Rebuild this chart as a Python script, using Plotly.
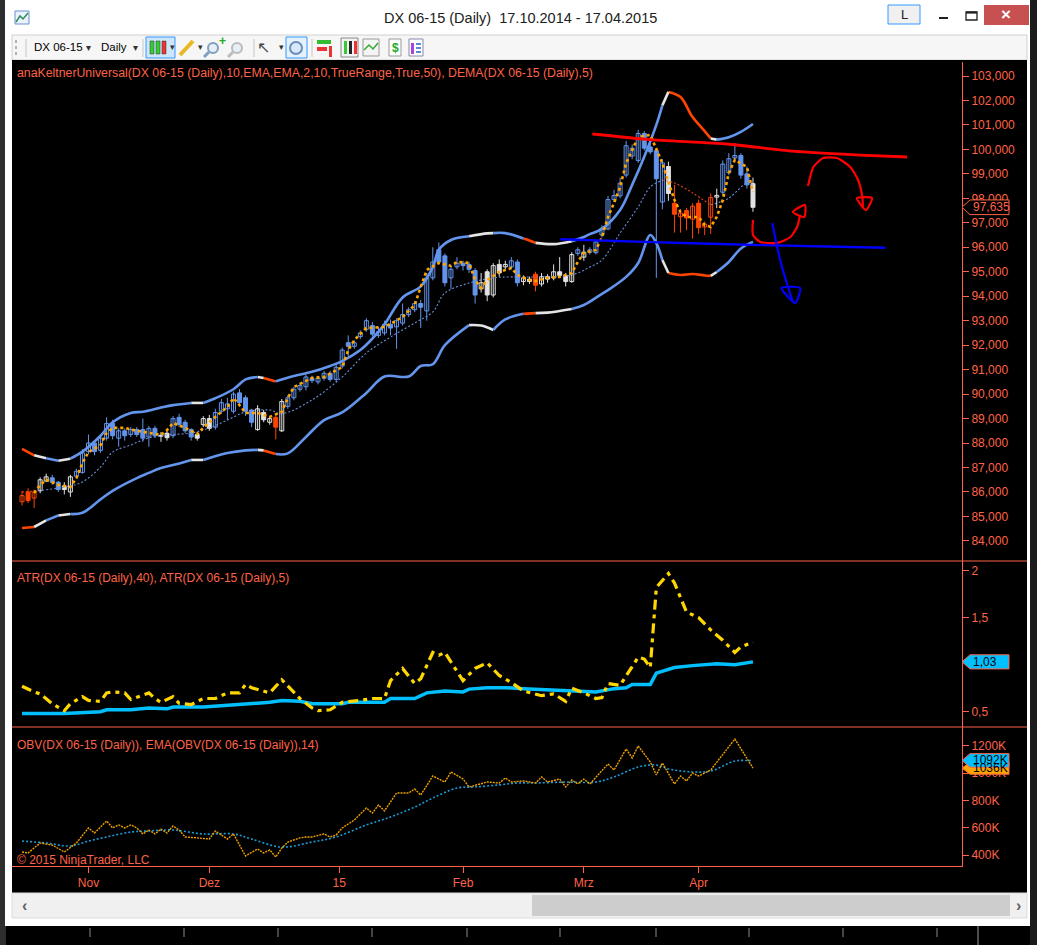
import plotly.graph_objects as go

W, H = 1037, 945
AX = "#FF6347"          # NinjaTrader axis / text colour
FONT = "Liberation Sans, Arial, sans-serif"

# ---------------- data ----------------
month_ticks = [11, 31, 52.5, 73, 93, 112]
month_labels = ["Nov", "Dez", "15", "Feb", "Mrz", "Apr"]

price_ticks = list(range(84, 104))
price_labels = [f"{v},000" for v in price_ticks]
atr_ticks = [0.5, 1.5, 2.0]
atr_labels = ["0,5", "1,5", "2"]
obv_ticks = [400, 600, 800, 1000, 1200]
obv_labels = ["400K", "600K", "800K", "1000K", "1200K"]

opens = [85.60, 86.00, 85.75, 86.05, 86.45, 86.58, 86.40, 86.25, 86.00, 86.65,
         86.80, 87.65, 88.00, 87.70, 88.20, 88.80, 88.20, 88.50, 88.35, 88.55,
         88.55, 88.25, 88.60, 88.32, 88.40, 88.30, 89.05, 88.85, 88.55, 88.35,
         88.75, 89.00, 88.65, 89.30, 89.40, 89.30, 90.05, 89.85, 89.35, 88.55,
         89.25, 88.85, 89.05, 88.50, 89.50, 89.85, 90.20, 90.30, 90.65, 90.50,
         90.65, 90.85, 90.60, 91.15, 92.10, 91.95, 92.35, 92.65, 92.80, 92.40,
         92.50, 92.85, 92.75, 92.90, 93.25, 93.45, 93.70, 93.40, 94.75, 95.90,
         95.65, 94.75, 95.20, 95.35, 95.30, 95.05, 94.30, 95.00, 94.05, 95.30,
         95.20, 95.20, 95.40, 94.60, 94.70, 94.90, 94.50, 94.80, 94.75, 95.00,
         94.85, 94.60, 95.75, 95.60, 95.80, 95.78, 96.50, 96.75, 97.95, 98.10,
         98.95, 99.73, 99.55, 100.65, 100.10, 99.95, 97.85, 99.30, 97.80, 97.25,
         97.50, 97.15, 97.80, 96.83, 97.23, 98.05, 98.25, 99.05, 99.65, 99.75,
         99.00, 98.60]
highs = [86.05, 86.15, 86.10, 86.60, 86.75, 86.70, 86.45, 86.40, 86.70, 86.95,
         87.75, 88.35, 88.10, 88.30, 89.05, 88.95, 88.60, 88.60, 88.65, 88.65,
         89.00, 88.70, 88.70, 88.45, 88.55, 89.10, 89.20, 88.95, 88.60, 88.45,
         89.10, 89.15, 89.40, 89.80, 89.85, 90.10, 90.20, 89.95, 89.40, 89.55,
         89.35, 89.10, 89.10, 89.80, 89.95, 90.30, 90.45, 90.80, 90.75, 90.75,
         90.95, 90.95, 91.20, 91.90, 92.40, 92.20, 92.60, 93.10, 92.95, 92.75,
         93.00, 93.05, 93.10, 93.70, 93.55, 93.80, 93.85, 94.95, 96.00, 96.20,
         95.75, 95.20, 95.60, 95.45, 95.40, 95.15, 94.95, 95.10, 95.35, 95.50,
         95.45, 95.60, 95.50, 94.85, 94.80, 95.00, 94.95, 94.90, 95.30, 95.60,
         94.95, 95.80, 96.00, 96.10, 96.00, 96.30, 96.90, 98.10, 98.35, 98.85,
         100.35, 100.20, 100.80, 100.75, 100.40, 100.05, 99.60, 99.50, 98.55, 97.55,
         97.60, 97.80, 97.95, 97.05, 98.20, 98.40, 99.55, 99.85, 100.25, 99.85,
         99.30, 98.85]
lows = [85.45, 85.55, 85.35, 85.95, 86.40, 86.30, 86.00, 85.90, 85.80, 86.55,
        86.75, 87.55, 87.50, 87.60, 88.10, 88.15, 87.85, 88.10, 88.25, 88.25,
        88.05, 87.85, 88.20, 88.05, 88.10, 88.20, 88.65, 88.40, 88.10, 88.10,
        88.65, 88.50, 88.55, 89.20, 88.95, 89.20, 89.55, 89.10, 88.65, 88.50,
        88.85, 88.75, 88.15, 88.45, 89.40, 89.75, 90.10, 90.15, 90.45, 90.40,
        90.55, 90.50, 90.50, 91.05, 91.55, 91.85, 92.25, 92.55, 92.35, 92.30,
        92.40, 92.40, 91.85, 92.80, 93.15, 93.35, 92.70, 93.00, 94.65, 95.30,
        94.40, 94.30, 95.10, 95.05, 94.95, 93.70, 94.15, 93.80, 93.95, 94.80,
        95.10, 95.10, 94.40, 94.45, 94.50, 94.20, 94.40, 94.55, 94.65, 94.75,
        94.40, 94.55, 95.65, 95.45, 95.70, 95.70, 96.40, 96.70, 97.85, 98.00,
        98.85, 99.60, 99.45, 99.95, 99.80, 94.75, 97.55, 97.90, 96.60, 96.60,
        96.70, 96.35, 96.55, 96.50, 96.55, 97.60, 98.10, 98.95, 99.55, 98.80,
        98.40, 97.45]
closes = [85.85, 85.65, 86.00, 86.50, 86.62, 86.40, 86.10, 86.10, 86.62, 86.85,
          87.60, 88.00, 87.65, 88.20, 88.80, 88.30, 88.50, 88.30, 88.55, 88.35,
          88.20, 88.60, 88.30, 88.28, 88.22, 89.00, 88.75, 88.50, 88.25, 88.20,
          89.00, 88.60, 89.25, 89.65, 89.60, 90.00, 89.65, 89.30, 88.85, 89.40,
          88.95, 89.00, 88.65, 89.70, 89.85, 90.20, 90.35, 90.70, 90.55, 90.65,
          90.85, 90.60, 91.10, 91.80, 91.95, 92.10, 92.50, 93.00, 92.45, 92.55,
          92.85, 92.70, 93.00, 93.25, 93.45, 93.70, 93.55, 94.75, 95.40, 95.40,
          94.55, 95.10, 95.35, 95.25, 95.10, 94.05, 94.55, 94.05, 95.25, 94.95,
          95.30, 95.45, 94.55, 94.75, 94.60, 94.45, 94.80, 94.70, 95.00, 94.85,
          94.60, 95.70, 95.90, 95.80, 95.90, 96.22, 96.78, 97.95, 98.12, 98.62,
          100.15, 100.05, 100.65, 100.05, 99.90, 98.80, 99.45, 98.20, 97.35, 97.40,
          97.20, 97.68, 96.80, 96.95, 98.03, 98.12, 99.40, 99.62, 99.75, 98.95,
          98.55, 97.635]
bar_colors = ("ooowwbbwwb" "bbbbbbbbbb" "bbbwwbbbbw" "wwbbbbbbbw" "wwowbbbbbb"
              "bbbbbbbbbb" "bbbbbbbbbb" "bbbbbbwwww" "wbbwwowwww" "wwbwbbbbbb"
              "bbbbbbbwoo" "ooooowbbbb" "bw")

upper_idx = [0, 2, 4, 6, 8, 10, 13, 15, 18, 20, 23, 25, 28, 30, 32, 35, 37, 39, 40, 42,
             43, 45, 48, 51, 53, 56, 58, 60, 63, 66, 68, 69, 71, 74, 77, 78, 80, 83, 84, 85,
             88, 91, 93, 94, 96, 99, 101, 103, 105, 106, 107, 109, 111, 113, 114, 115, 117, 119, 121]
upper_val = [87.76, 87.50, 87.38, 87.28, 87.36, 87.65, 88.30, 88.85, 89.23, 89.28,
             89.45, 89.55, 89.64, 89.64, 89.83, 90.20, 90.60, 90.70, 90.66, 90.52,
             90.60, 90.74, 90.91, 91.15, 91.35, 91.80, 92.27, 92.85, 93.95, 94.40,
             95.19, 95.90, 96.30, 96.45, 96.57, 96.58, 96.58, 96.36, 96.28, 96.18,
             96.13, 96.25, 96.42, 96.54, 96.75, 97.52, 98.55, 99.70, 101.0, 101.8,
             102.35, 102.14, 101.32, 100.75, 100.45, 100.40, 100.50, 100.72, 101.04]
lower_idx = [0, 2, 4, 6, 8, 10, 13, 15, 19, 21, 23, 25, 28, 30, 34, 37, 39, 40, 42, 44,
             47, 50, 53, 57, 60, 64, 66, 68, 70, 74, 76, 78, 80, 83, 85, 87, 91, 93, 96, 97,
             100, 102, 104, 105, 106, 107, 109, 111, 113, 114, 115, 117, 119, 121]
lower_val = [84.53, 84.57, 84.84, 85.04, 85.10, 85.15, 85.70, 86.05, 86.57, 86.78,
             86.98, 87.10, 87.31, 87.31, 87.59, 87.70, 87.72, 87.70, 87.55, 87.58,
             88.25, 88.94, 89.25, 90.05, 90.72, 90.72, 91.15, 91.22, 92.00, 92.82,
             92.80, 92.62, 93.05, 93.28, 93.31, 93.33, 93.48, 93.64, 94.10, 94.25,
             94.79, 95.36, 96.50, 96.17, 95.48, 94.95, 94.87, 94.91, 94.85, 94.83,
             94.99, 95.40, 95.95, 96.22]
band_breaks = [0, 2, 4, 6, 8, 28, 30, 39, 40, 42, 74, 78, 83, 85, 91, 106, 107, 114, 115, 121]
band_states = ["r", "w", "b", "w", "b", "w", "b", "w", "r", "b", "w", "b", "r", "w", "b", "w", "r", "w", "b"]

mid_idx = [0, 2, 7, 10, 13, 15, 18, 21, 24, 28, 31, 34, 37, 41, 43, 48, 53, 57, 61, 65,
           68, 70, 74, 78, 81, 86, 91, 94, 96, 99, 102, 104, 106, 108, 111, 114, 117, 120, 121]
mid_val = [86.0, 86.04, 86.2, 86.41, 87.02, 87.63, 87.92, 88.21, 88.33, 88.41,
           88.62, 88.94, 89.27, 89.35, 89.20, 89.76, 90.70, 91.68, 92.33, 92.91,
           93.36, 94.13, 94.54, 94.75, 94.79, 94.79, 94.87, 95.19, 95.48, 96.58,
           97.65, 98.46, 98.75, 98.63, 98.22, 97.73, 98.01, 98.63, 98.55]
mid_breaks = [0, 2, 106, 114, 121]
mid_states = ["r", "b", "r", "b"]

dema_idx = [2, 3, 4, 6, 8, 9, 10, 11, 13, 14, 15, 17, 19, 21, 23, 24, 25, 27, 29, 30,
            32, 34, 35, 36, 37, 39, 41, 43, 44, 45, 48, 50, 53, 54, 55, 57, 59, 60, 63, 65,
            66, 67, 69, 71, 72, 74, 75, 76, 77, 79, 81, 82, 84, 85, 87, 89, 91, 92, 93, 95,
            96, 97, 98, 99, 100, 101, 102, 104, 105, 106, 107, 108, 109, 110, 112, 113, 114,
            115, 116, 117, 118, 120, 121]
dema_val = [85.96, 86.29, 86.5, 86.29, 86.2, 86.57, 87.18, 87.63, 87.92, 88.41,
            88.62, 88.62, 88.5, 88.41, 88.33, 88.53, 88.82, 88.62, 88.37, 88.62,
            89.07, 89.47, 89.84, 89.55, 89.23, 89.23, 89.07, 89.27, 89.84, 90.29,
            90.66, 90.70, 91.11, 91.80, 92.21, 92.70, 92.74, 92.74, 93.15, 93.64,
            94.38, 95.07, 95.36, 95.24, 95.40, 95.36, 94.66, 94.34, 94.66, 94.99,
            95.15, 94.87, 94.66, 94.62, 94.75, 94.79, 94.95, 95.40, 95.77, 95.89,
            96.42, 97.24, 97.81, 98.46, 99.44, 99.98, 100.51, 100.59, 99.98, 99.44,
            98.67, 97.93, 97.44, 97.24, 97.24, 96.91, 96.83, 97.24, 97.93, 99.04,
            99.57, 99.28, 98.26]

atr5_idx = [0, 2, 3, 5, 7, 8, 10, 11, 13, 14, 15, 17, 18, 21, 22, 23, 25, 26, 28, 30,
            32, 34, 36, 37, 38, 41, 43, 45, 46, 48, 49, 51, 53, 56, 58, 60, 61, 63, 65, 66,
            68, 69, 70, 73, 75, 77, 79, 81, 83, 86, 88, 90, 91, 93, 95, 96, 97, 99, 101, 102,
            103, 104, 105, 107, 108, 110, 112, 114, 116, 118, 119, 121]
atr5_val = [0.77, 0.71, 0.69, 0.585, 0.51, 0.585, 0.66, 0.62, 0.61, 0.70,
            0.71, 0.70, 0.63, 0.70, 0.64, 0.60, 0.66, 0.59, 0.575, 0.64,
            0.64, 0.70, 0.70, 0.79, 0.755, 0.70, 0.84, 0.70, 0.64, 0.54,
            0.51, 0.52, 0.60, 0.62, 0.64, 0.64, 0.83, 0.96, 0.80, 0.85,
            1.13, 1.10, 1.13, 0.83, 0.96, 1.02, 0.885, 0.81, 0.72, 0.67,
            0.69, 0.61, 0.75, 0.70, 0.64, 0.65, 0.80, 0.78, 0.99, 1.08,
            1.06, 0.97, 1.82, 1.97, 1.87, 1.56, 1.50, 1.37, 1.26, 1.13,
            1.19, 1.24]
atr40_idx = [0, 7, 13, 14, 18, 21, 24, 25, 30, 35, 41, 43, 46, 48, 53, 54, 60, 61, 65, 67,
             70, 73, 74, 77, 80, 83, 90, 95, 98, 100, 101, 104, 105, 108, 111, 115, 118, 121]
atr40_val = [0.48, 0.48, 0.50, 0.52, 0.52, 0.54, 0.53, 0.55, 0.55, 0.575,
             0.60, 0.62, 0.61, 0.585, 0.585, 0.60, 0.60, 0.64, 0.64, 0.70,
             0.72, 0.71, 0.74, 0.755, 0.755, 0.745, 0.72, 0.71, 0.745, 0.755,
             0.79, 0.79, 0.91, 0.97, 0.99, 1.01, 1.00, 1.03]

obv_idx = [0, 1, 3, 5, 7, 9, 11, 12, 14, 15, 16, 17, 18, 19, 20, 21, 22, 23, 24, 25,
           26, 27, 29, 31, 32, 34, 35, 36, 37, 39, 40, 41, 42, 43, 44, 46, 47, 48, 50, 51,
           52, 53, 55, 57, 58, 59, 60, 62, 64, 65, 66, 68, 70, 71, 73, 74, 76, 77, 79, 80,
           81, 83, 85, 86, 87, 89, 90, 91, 92, 93, 94, 95, 97, 98, 100, 101, 102, 104, 105, 106,
           108, 109, 110, 111, 112, 114, 118, 121]
obv_val = [422, 415, 488, 473, 422, 488, 598, 561, 649, 598, 620, 598, 620, 598, 554, 583, 554, 590, 561, 612,
           583, 532, 525, 517, 576, 517, 554, 473, 393, 444, 415, 437, 385, 451, 495, 525, 532, 532, 554, 532,
           546, 598, 656, 744, 707, 766, 722, 854, 854, 883, 839, 978, 934, 1008, 956, 898, 920, 934, 927, 964,
           934, 942, 927, 971, 934, 956, 898, 949, 920, 956, 920, 971, 1066, 1022, 1176, 1110, 1198, 1081, 986, 1073,
           920, 978, 942, 1000, 978, 1022, 1249, 1036]
obvema_idx = [0, 4, 8, 11, 14, 18, 21, 25, 30, 35, 38, 43, 48, 52, 57, 61, 65, 68, 72, 75,
              79, 82, 85, 90, 95, 98, 102, 105, 107, 111, 114, 118, 120, 121]
obvema_val = [502, 488, 466, 502, 532, 568, 576, 583, 554, 554, 517, 458, 495, 532, 620, 678, 751, 817, 890, 898,
              913, 927, 927, 934, 934, 971, 1044, 1059, 1030, 1008, 1015, 1088, 1092, 1092]

last_price, last_atr, last_obv_ema, last_obv = 97.635, 1.03, 1092, 1036

# hand drawn trend lines / arrows (bar index, price)
red_line_x = [94.4, 104, 116.7, 127.6, 138.7, 146.5]
red_line_y = [100.63, 100.40, 100.22, 99.93, 99.77, 99.69]
blue_line_x = [89.1, 105.6, 122.2, 142.9]
blue_line_y = [96.33, 96.20, 96.09, 95.98]
red_hook_x = [121.0, 121.0, 122.2, 125.0, 127.2, 128.3, 128.8]
red_hook_y = [97.12, 96.50, 96.22, 96.18, 96.42, 96.83, 97.32]
red_hook_head_x = [127.6, 129.6, 129.5, 127.6]
red_hook_head_y = [97.44, 97.73, 97.24, 97.44]
red_arc_x = [130.1, 131.0, 132.6, 134.9, 137.1, 138.4, 139.1, 139.2]
red_arc_y = [98.50, 99.28, 99.65, 99.65, 99.28, 98.75, 98.06, 97.61]
red_arc_head_x = [138.2, 140.7, 139.7, 138.2]
red_arc_head_y = [98.01, 98.01, 97.52, 98.01]
blue_arrow_x = [124.2, 125.0, 125.8, 126.8, 127.6]
blue_arrow_y = [96.99, 96.01, 95.19, 94.38, 93.76]
blue_head_x = [125.7, 128.8, 128.0, 125.7]
blue_head_y = [94.34, 94.34, 93.72, 94.34]

# ---------------- helpers ----------------
def X(px):
    return px / W


def Y(py):
    return 1 - py / H


shapes = []
annotations = []


def rect(x0, y0, x1, y1, fill, line=None, lw=1, layer="below"):
    shapes.append(dict(type="rect", xref="paper", yref="paper", x0=X(x0), x1=X(x1),
                       y0=Y(y1), y1=Y(y0), fillcolor=fill, layer=layer,
                       line=dict(color=line if line else fill, width=lw if line else 0)))


def hline(x0, x1, y, color, lw=1, layer="above", dash="solid"):
    shapes.append(dict(type="line", xref="paper", yref="paper", x0=X(x0), x1=X(x1),
                       y0=Y(y), y1=Y(y), layer=layer, line=dict(color=color, width=lw, dash=dash)))


def vline(x, y0, y1, color, lw=1, layer="above", dash="solid"):
    shapes.append(dict(type="line", xref="paper", yref="paper", x0=X(x), x1=X(x),
                       y0=Y(y0), y1=Y(y1), layer=layer, line=dict(color=color, width=lw, dash=dash)))


def text(x, y, s, size=12, color=AX, anchor="left", family=FONT):
    annotations.append(dict(x=X(x), y=Y(y), xref="paper", yref="paper", text=s, showarrow=False,
                            xanchor=anchor, yanchor="middle",
                            font=dict(size=size, color=color, family=family)))


def segments(idx, val, breaks, states):
    out = {}
    for k, st in enumerate(states):
        a, b = breaks[k], breaks[k + 1]
        xs = [i for i in idx if a <= i <= b]
        ys = [v for i, v in zip(idx, val) if a <= i <= b]
        ox, oy = out.setdefault(st, ([], []))
        ox.extend(xs + [None])
        oy.extend(ys + [None])
    return out


def value_tag(y, ax_ref, half, label, fill, border, txt_color):
    # arrow shaped tag at the right axis
    x_tip, x_sh, x_end = X(962), X(970), X(1009)
    path = (f"M {x_tip} {y} L {x_sh} {y + half} L {x_end} {y + half} "
            f"L {x_end} {y - half} L {x_sh} {y - half} Z")
    shapes.append(dict(type="path", path=path, xref="paper", yref=ax_ref, layer="above",
                       fillcolor=fill, line=dict(color=border, width=1)))
    annotations.append(dict(x=X(971), y=y, xref="paper", yref=ax_ref, text=label, showarrow=False,
                            xanchor="left", yanchor="middle",
                            font=dict(size=12, color=txt_color, family=FONT)))


# ---------------- window chrome ----------------
rect(0, 0, 6, 945, "#2E2E2E")
rect(5, 0, 1030, 926, "#FFFFFF")
rect(1030, 0, 1037, 945, "#1C1C1C")
for gx in [90, 184, 278, 372, 467, 560, 656, 749, 843, 937]:
    vline(gx, 928, 945, "#8A8A8A", 1, layer="below", dash="dash")
vline(978, 926, 945, "#9A9A9A", 1, layer="below")
rect(12, 35, 1027, 60, "#F6F6F6", "#D0D0D0")
rect(12, 60, 1027, 893, "#000000")
rect(12, 893, 1027, 918, "#F0F0F0", "#DCDCDC")
rect(532, 895, 1010, 916, "#CDCDCD")
text(20, 905, "<b>‹</b>", 16, "#606060")
text(1014, 905, "<b>›</b>", 16, "#606060")

# title bar
rect(15, 11, 29, 24, "#EAF2FF", "#6A8FD0")
shapes.append(dict(type="path", xref="paper", yref="paper", layer="above",
                   path=f"M {X(16)} {Y(22)} L {X(20)} {Y(16)} L {X(23)} {Y(19)} L {X(28)} {Y(13)}",
                   line=dict(color="#2E8B57", width=1.5)))
text(520, 18, "DX 06-15 (Daily)  17.10.2014 - 17.04.2015", 14.5, "#202020", "center")
rect(888, 5, 920, 24, "#F0F0F0", "#3399FF")
text(904, 15, "L", 13, "#202020", "center")
rect(939, 17, 948, 19, "#202020")
rect(966, 12, 977, 20, "rgba(0,0,0,0)", "#202020", 1.3)
hline(966, 977, 12.6, "#202020", 2, layer="below")
rect(984, 5, 1029, 25, "#C75050")
text(1006, 15, "<b>×</b>", 17, "#FFFFFF", "center")

# toolbar
vline(16, 40, 56, "#9A9A9A", 1.5, layer="below", dash="dot")
for sx in [26, 143, 254, 312]:
    vline(sx, 39, 57, "#C8C8C8", 1, layer="below")
text(32, 47, "DX 06-15", 11.5, "#000000")
text(84, 47, "▾", 10, "#333333")
text(99, 47, "Daily", 11.5, "#000000")
text(131, 47, "▾", 10, "#333333")
rect(146, 37, 175, 58, "#CDE6FA", "#3399FF")
for cx, cc in [(150, "#33CC33"), (156, "#33CC33"), (162, "#EE3333")]:
    rect(cx, 41, cx + 4, 54, cc, "#333333", 0.5)
text(168, 47, "▾", 9, "#333333")
shapes.append(dict(type="line", xref="paper", yref="paper", layer="below",
                   x0=X(180), y0=Y(55), x1=X(193), y1=Y(41), line=dict(color="#E8B820", width=4)))
text(196, 47, "▾", 9, "#333333")
for zx, zc in [(208, "#7F9FBF"), (232, "#BBBBBB")]:
    shapes.append(dict(type="circle", xref="paper", yref="paper", layer="below",
                       x0=X(zx), x1=X(zx + 10), y0=Y(53), y1=Y(43),
                       line=dict(color=zc, width=2), fillcolor="#E8EEF5"))
    shapes.append(dict(type="line", xref="paper", yref="paper", layer="below",
                       x0=X(zx - 4), x1=X(zx + 1), y0=Y(57), y1=Y(52), line=dict(color=zc, width=3)))
text(222, 41, "<b>+</b>", 12, "#22AA22", "center")
text(263, 47, "↖", 16, "#444444", "center")
text(277, 47, "▾", 9, "#333333")
rect(286, 37, 307, 58, "#E5F1FB", "#3399FF")
shapes.append(dict(type="circle", xref="paper", yref="paper", layer="below",
                   x0=X(290), x1=X(302), y0=Y(54), y1=Y(42),
                   line=dict(color="#6A8FBF", width=2), fillcolor="#D8E8F8"))
rect(317, 40, 331, 44, "#33BB33")
rect(317, 47, 327, 51, "#EE3333")
rect(329, 46, 332, 57, "#EE3333")
rect(341, 38, 358, 57, "#F2F2F2", "#888888")
for cx, cc in [(344, "#33CC33"), (349, "#222222"), (354, "#EE3333")]:
    rect(cx, 41, cx + 3, 54, cc)
rect(363, 39, 379, 56, "#F4F4F4", "#999999")
shapes.append(dict(type="path", xref="paper", yref="paper", layer="below",
                   path=f"M {X(364)} {Y(50)} L {X(369)} {Y(45)} L {X(373)} {Y(49)} L {X(378)} {Y(43)}",
                   line=dict(color="#33AA33", width=1.5)))
rect(389, 39, 401, 56, "#FFFFFF", "#999999")
text(395, 48, "<b>$</b>", 12, "#22AA22", "center")
rect(409, 39, 423, 56, "#FFFFFF", "#8888AA")
rect(411, 43, 414, 54, "#AA44DD")
for ry in [43, 47, 51]:
    rect(416, ry, 421, ry + 2, "#5A8AD0")

# ---------------- chart geometry ----------------
XD = [X(12), X(962)]
XR = [-1.66, 155.6]
price_dom = [Y(561), Y(62)]
atr_dom = [Y(727), Y(561)]
obv_dom = [Y(866), Y(727)]
PR = [83.18, 103.572]
AR = [0.337, 2.103]
OR = [319.5, 1336.9]

fig = go.Figure()

band_col = {"b": "#6495ED", "w": "#E4E4E4", "r": "#FF4500"}
for idx, val in [(upper_idx, upper_val), (lower_idx, lower_val)]:
    for st, (xs, ys) in segments(idx, val, band_breaks, band_states).items():
        fig.add_trace(go.Scatter(x=xs, y=ys, mode="lines", xaxis="x", yaxis="y",
                                 line=dict(color=band_col[st], width=2.6, shape="spline"),
                                 hoverinfo="skip"))

mid_col = {"b": "#6A8FD8", "r": "#E0401A"}
for st, (xs, ys) in segments(mid_idx, mid_val, mid_breaks, mid_states).items():
    fig.add_trace(go.Scatter(x=xs, y=ys, mode="lines", xaxis="x", yaxis="y",
                             line=dict(color=mid_col[st], width=1.1, dash="2px,2px", shape="spline"),
                             hoverinfo="skip"))

candle_col = {"b": "#6495ED", "w": "#E2E2E2", "o": "#FF4500"}
n = len(closes)
for key in "bwo":
    wx, wy = [], []
    for i in range(n):
        if bar_colors[i] == key:
            wx += [i, i, None]
            wy += [lows[i], highs[i], None]
    fig.add_trace(go.Scatter(x=wx, y=wy, mode="lines", xaxis="x", yaxis="y",
                             line=dict(color=candle_col[key], width=1), hoverinfo="skip"))

body_base = [min(o, c) for o, c in zip(opens, closes)]
body_h = [max(abs(c - o), 0.03) for o, c in zip(opens, closes)]
body_line = [candle_col[k] for k in bar_colors]
body_fill = ["#000000" if c >= o else candle_col[k] for o, c, k in zip(opens, closes, bar_colors)]
fig.add_trace(go.Bar(x=list(range(n)), y=body_h, base=body_base, width=0.66, xaxis="x", yaxis="y",
                     marker=dict(color=body_fill, line=dict(color=body_line, width=1)),
                     hoverinfo="skip"))

fig.add_trace(go.Scatter(x=dema_idx, y=dema_val, mode="lines", xaxis="x", yaxis="y",
                         line=dict(color="#FFA500", width=2.6, dash="3px,3px"), hoverinfo="skip"))

# hand drawings
for xs, ys, c, w in [(red_line_x, red_line_y, "#FF0000", 2.8), (blue_line_x, blue_line_y, "#0000FF", 2.4),
                     (red_hook_x, red_hook_y, "#FF0000", 2.2), (red_hook_head_x, red_hook_head_y, "#FF0000", 2.2),
                     (red_arc_x, red_arc_y, "#FF0000", 2.2), (red_arc_head_x, red_arc_head_y, "#FF0000", 2.2),
                     (blue_arrow_x, blue_arrow_y, "#0000FF", 2.2), (blue_head_x, blue_head_y, "#0000FF", 2.2)]:
    fig.add_trace(go.Scatter(x=xs, y=ys, mode="lines", xaxis="x", yaxis="y",
                             line=dict(color=c, width=w, shape="spline", smoothing=0.6), hoverinfo="skip"))

# ATR panel
fig.add_trace(go.Scatter(x=atr40_idx, y=atr40_val, mode="lines", xaxis="x2", yaxis="y2",
                         line=dict(color="#00BFFF", width=3.5), hoverinfo="skip"))
fig.add_trace(go.Scatter(x=atr5_idx, y=atr5_val, mode="lines", xaxis="x2", yaxis="y2",
                         line=dict(color="#FFD700", width=3.2, dash="10px,5px,4px,5px"), hoverinfo="skip"))

# OBV panel
fig.add_trace(go.Scatter(x=obvema_idx, y=obvema_val, mode="lines", xaxis="x3", yaxis="y3",
                         line=dict(color="#1B9AD6", width=1.6, dash="2px,2px", shape="spline"),
                         hoverinfo="skip"))
fig.add_trace(go.Scatter(x=obv_idx, y=obv_val, mode="lines", xaxis="x3", yaxis="y3",
                         line=dict(color="#F0A000", width=1.4, dash="2px,1px"), hoverinfo="skip"))

# panel separators
hline(12, 1027, 561, AX, 1)
hline(12, 1027, 727, AX, 1)

# value tags on the right axis
value_tag(last_price, "y", 0.30, f"{last_price:.3f}".replace(".", ","), "#000000", AX, AX)
value_tag(last_atr, "y2", 0.075, f"{last_atr:.2f}".replace(".", ","), "#00BFFF", AX, "#000000")
value_tag(last_obv, "y3", 45, f"{last_obv}K", "#FFA500", AX, "#000000")
value_tag(last_obv_ema, "y3", 50, f"{last_obv_ema}K", "#00BFFF", AX, "#000000")

# panel captions
text(15, 73, "anaKeltnerUniversal(DX 06-15 (Daily),10,EMA,EMA,2,10,TrueRange,True,50), DEMA(DX 06-15 (Daily),5)", 12.3)
text(15, 578, "ATR(DX 06-15 (Daily),40), ATR(DX 06-15 (Daily),5)", 12)
text(15, 745, "OBV(DX 06-15 (Daily)), EMA(OBV(DX 06-15 (Daily)),14)", 12)
text(15, 860, "© 2015 NinjaTrader, LLC", 12)

common_y = dict(side="right", showgrid=False, zeroline=False, ticks="outside", ticklen=6,
                tickcolor=AX, showline=True, linecolor=AX, linewidth=1, automargin=False,
                tickfont=dict(color=AX, size=12, family=FONT), fixedrange=True)
common_x = dict(domain=XD, range=XR, showgrid=False, zeroline=False, automargin=False, fixedrange=True)

fig.update_layout(
    width=W, height=H, margin=dict(l=0, r=0, t=0, b=0),
    paper_bgcolor="#000000", plot_bgcolor="rgba(0,0,0,0)",
    showlegend=False, hovermode=False, barmode="overlay",
    xaxis=dict(anchor="y", showticklabels=False, ticks="", **common_x),
    xaxis2=dict(anchor="y2", showticklabels=False, ticks="", **common_x),
    xaxis3=dict(anchor="y3", tickvals=month_ticks, ticktext=month_labels, ticks="outside",
                ticklen=6, tickcolor=AX, showline=True, linecolor=AX, linewidth=1,
                tickfont=dict(color=AX, size=12, family=FONT), **common_x),
    yaxis=dict(domain=price_dom, range=PR, anchor="x", tickvals=price_ticks, ticktext=price_labels, **common_y),
    yaxis2=dict(domain=atr_dom, range=AR, anchor="x2", tickvals=atr_ticks, ticktext=atr_labels, **common_y),
    yaxis3=dict(domain=obv_dom, range=OR, anchor="x3", tickvals=obv_ticks, ticktext=obv_labels, **common_y),
    shapes=shapes, annotations=annotations,
)

fig.write_html("out.html", config={"displayModeBar": False},
               post_script="document.body.style.margin='0px';document.body.style.overflow='hidden';")
